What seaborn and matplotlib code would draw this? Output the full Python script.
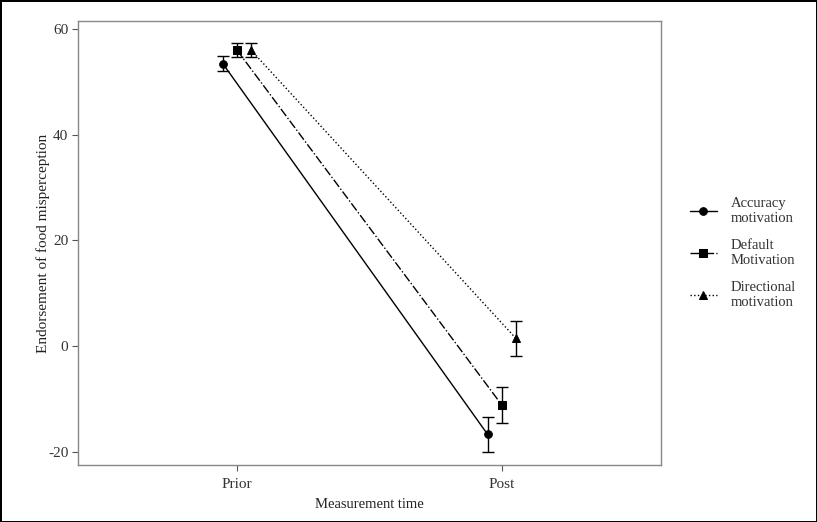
import numpy as np
import pandas as pd
import matplotlib
matplotlib.use("Agg")
import matplotlib.pyplot as plt
import seaborn as sns

# data
times = ["Prior", "Post"]
groups = ["Accuracy\nmotivation", "Default\nMotivation", "Directional\nmotivation"]
accuracy = [53.4, -16.7]
default = [56.0, -11.1]
directional = [56.0, 1.5]
accuracy_err = [1.4, 3.3]
default_err = [1.3, 3.4]
directional_err = [1.4, 3.3]

df = pd.DataFrame({
    "time": times * 3,
    "group": np.repeat(groups, 2),
    "value": accuracy + default + directional,
    "err": accuracy_err + default_err + directional_err,
})

sns.set_style("white")
plt.rcParams["font.family"] = ["Liberation Serif", "DejaVu Serif"]
plt.rcParams["axes.unicode_minus"] = False

fig = plt.figure(figsize=(8.17, 5.22), dpi=100)
fig.patch.set_edgecolor("black")
fig.patch.set_linewidth(2)
ax = fig.add_axes([0.0955, 0.109, 0.713, 0.851])

sns.pointplot(data=df, x="time", y="value", hue="group", order=times,
              hue_order=groups, errorbar=None, dodge=0.106,
              markers=["o", "s", "^"], linestyles=["-", "-.", ":"],
              palette=["black"] * 3, markersize=5.5, linewidth=1.0, ax=ax)

# error bars at the dodged point positions
for line, g in zip(ax.lines[:3], groups):
    xs = line.get_xdata()
    sub = df[df["group"] == g].set_index("time").loc[times]
    ax.errorbar(xs, sub["value"], yerr=sub["err"], fmt="none",
                ecolor="black", elinewidth=1.0, capsize=4, capthick=1.0)

ax.set_xlim(-0.6, 1.6)
ax.set_ylim(-22.5, 61.5)
ax.set_yticks([-20, 0, 20, 40, 60])
ax.set_xlabel("Measurement time", fontsize=10.5, color="#222222", labelpad=5)
ax.set_ylabel("Endorsement of food misperception", fontsize=11, color="#222222", labelpad=-1.5)
ax.tick_params(axis="both", direction="out", length=4, width=0.8,
               color="#555555", labelsize=11, labelcolor="#333333",
               bottom=True, left=True, pad=3)
ax.tick_params(axis="x", pad=5)
for sp in ax.spines.values():
    sp.set_color("#888888")
    sp.set_linewidth(1.0)

handles, labels = ax.get_legend_handles_labels()
ax.get_legend().remove()
fig.legend(handles, labels, loc="center left", bbox_to_anchor=(0.828, 0.515),
           frameon=False, fontsize=10.5, labelspacing=0.95, handlelength=1.9,
           handletextpad=0.9, labelcolor="#333333")

fig.savefig("out.png", dpi=100)
